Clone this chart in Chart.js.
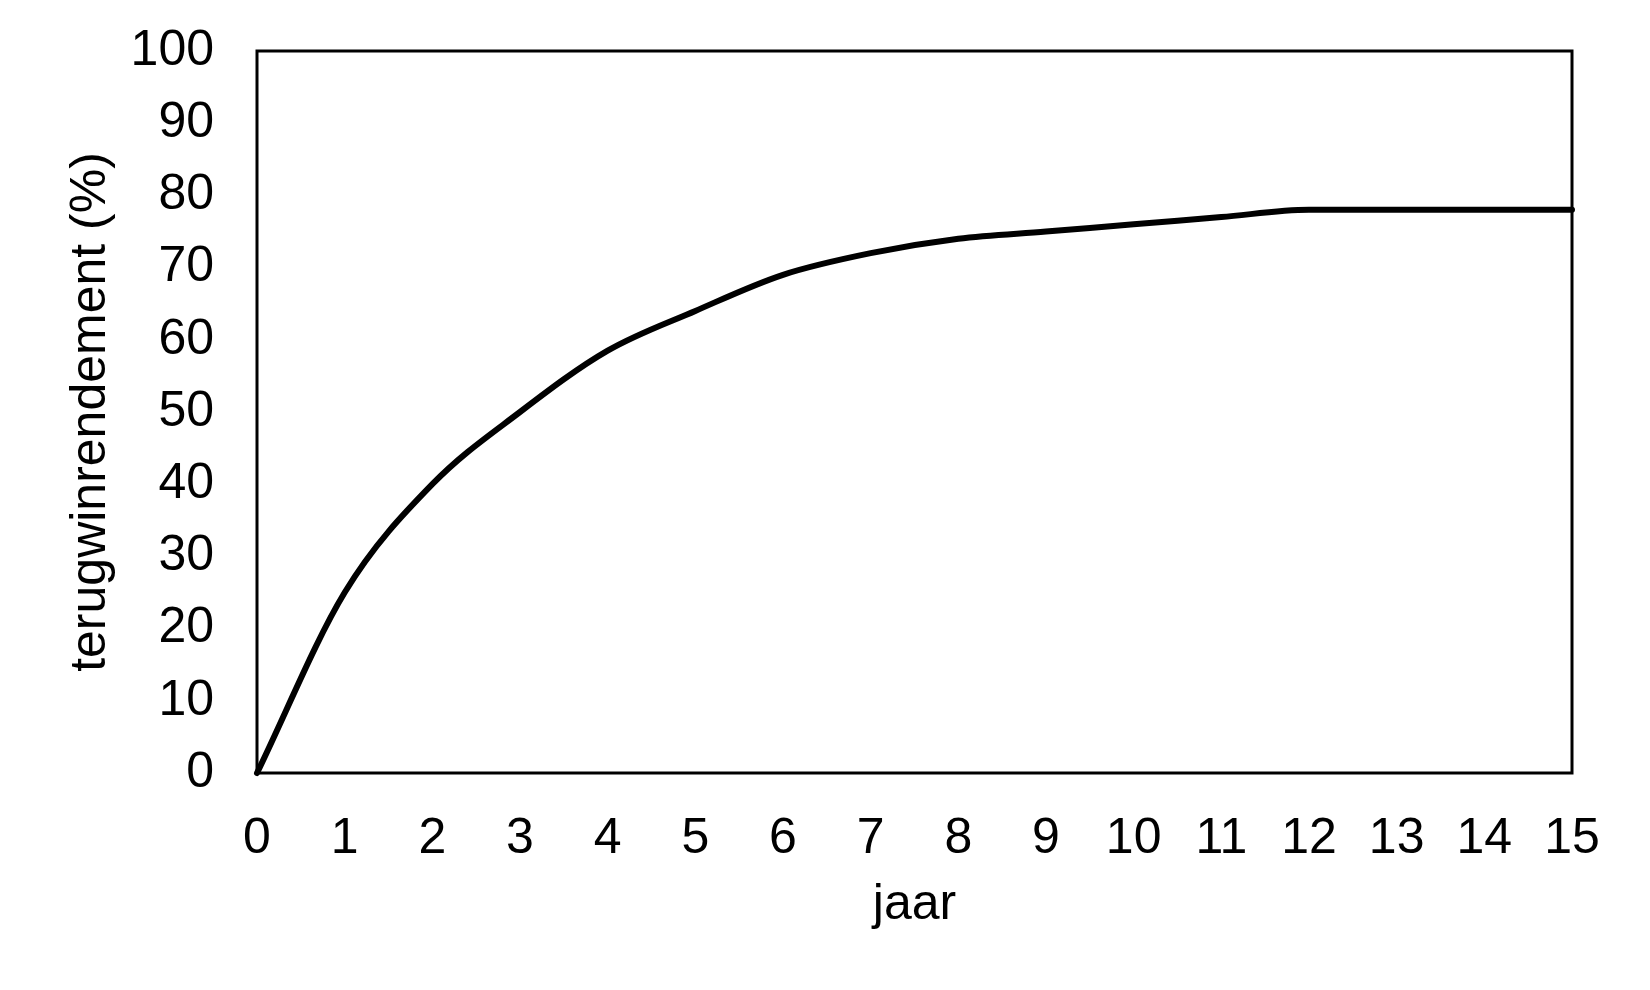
<!DOCTYPE html>
<html>
<head>
<meta charset="utf-8">
<title>terugwinrendement</title>
<script src="https://cdn.jsdelivr.net/npm/chart.js@4.4.1/dist/chart.umd.min.js"></script>
<style>
  html, body { margin: 0; padding: 0; background: #fff; }
  #wrap { width: 1650px; height: 990px; }
</style>
</head>
<body>
<div id="wrap"><canvas id="chart"></canvas></div>
<script>
// ----- data ----- //
const YEARS = [0, 1, 2, 3, 4, 5, 6, 7, 8, 9, 10, 11, 12, 13, 14, 15];
const RECOVERY = [0, 25, 40, 50, 58.5, 64, 69, 72, 74, 75, 76, 77, 78, 78, 78, 78];
const X_TITLE = "jaar";
const Y_TITLE = "terugwinrendement (%)";

const FONT = "'Liberation Sans', Arial, sans-serif";

// box round the plot area
const frame = {
  id: "frame",
  beforeDatasetsDraw(chart) {
    const { ctx, chartArea: a } = chart;
    ctx.save();
    ctx.strokeStyle = "#000";
    ctx.lineWidth = 3;
    ctx.strokeRect(a.left, a.top, a.right - a.left, a.bottom - a.top);
    ctx.restore();
  },
};

let points = YEARS.map((year, i) => ({ x: year, y: RECOVERY[i] }));

new Chart(document.getElementById("chart").getContext("2d"), {
  type: "line",
  data: {
    datasets: [
      {
        data: points,
        borderColor: "#000",
        borderWidth: 6,
        borderCapStyle: "round",
        borderJoinStyle: "round",
        pointRadius: 0,
        cubicInterpolationMode: "monotone",
        fill: false,
        clip: false,
      },
    ],
  },
  options: {
    responsive: true,
    maintainAspectRatio: false,
    devicePixelRatio: 1,
    animation: false,
    layout: { padding: { top: 51, right: 78, bottom: 0, left: 0 } },
    plugins: {
      legend: { display: false },
      tooltip: { enabled: false },
    },
    scales: {
      x: {
        type: "linear",
        min: 0,
        max: 15,
        grid: { display: false },
        border: { display: false },
        ticks: {
          stepSize: 1,
          padding: 28,
          color: "#000",
          font: { family: FONT, size: 50 },
        },
        title: {
          display: true,
          text: X_TITLE,
          color: "#000",
          font: { family: FONT, size: 50 },
          padding: { top: 0, bottom: 55 },
        },
        afterFit: (scale) => {
          scale.height = 217;
          scale.paddingLeft = 0;
          scale.paddingRight = 0;
        },
      },
      y: {
        min: 0,
        max: 100,
        grid: { display: false },
        border: { display: false },
        ticks: {
          stepSize: 10,
          padding: 35,
          color: "#000",
          font: { family: FONT, size: 50 },
        },
        title: {
          display: true,
          text: Y_TITLE,
          color: "#000",
          font: { family: FONT, size: 50 },
          padding: { top: 61, bottom: 0 },
        },
        afterFit: (scale) => {
          scale.width = 257;
          scale.paddingTop = 0;
          scale.paddingBottom = 0;
        },
      },
    },
  },
  plugins: [frame],
});
</script>
</body>
</html>
